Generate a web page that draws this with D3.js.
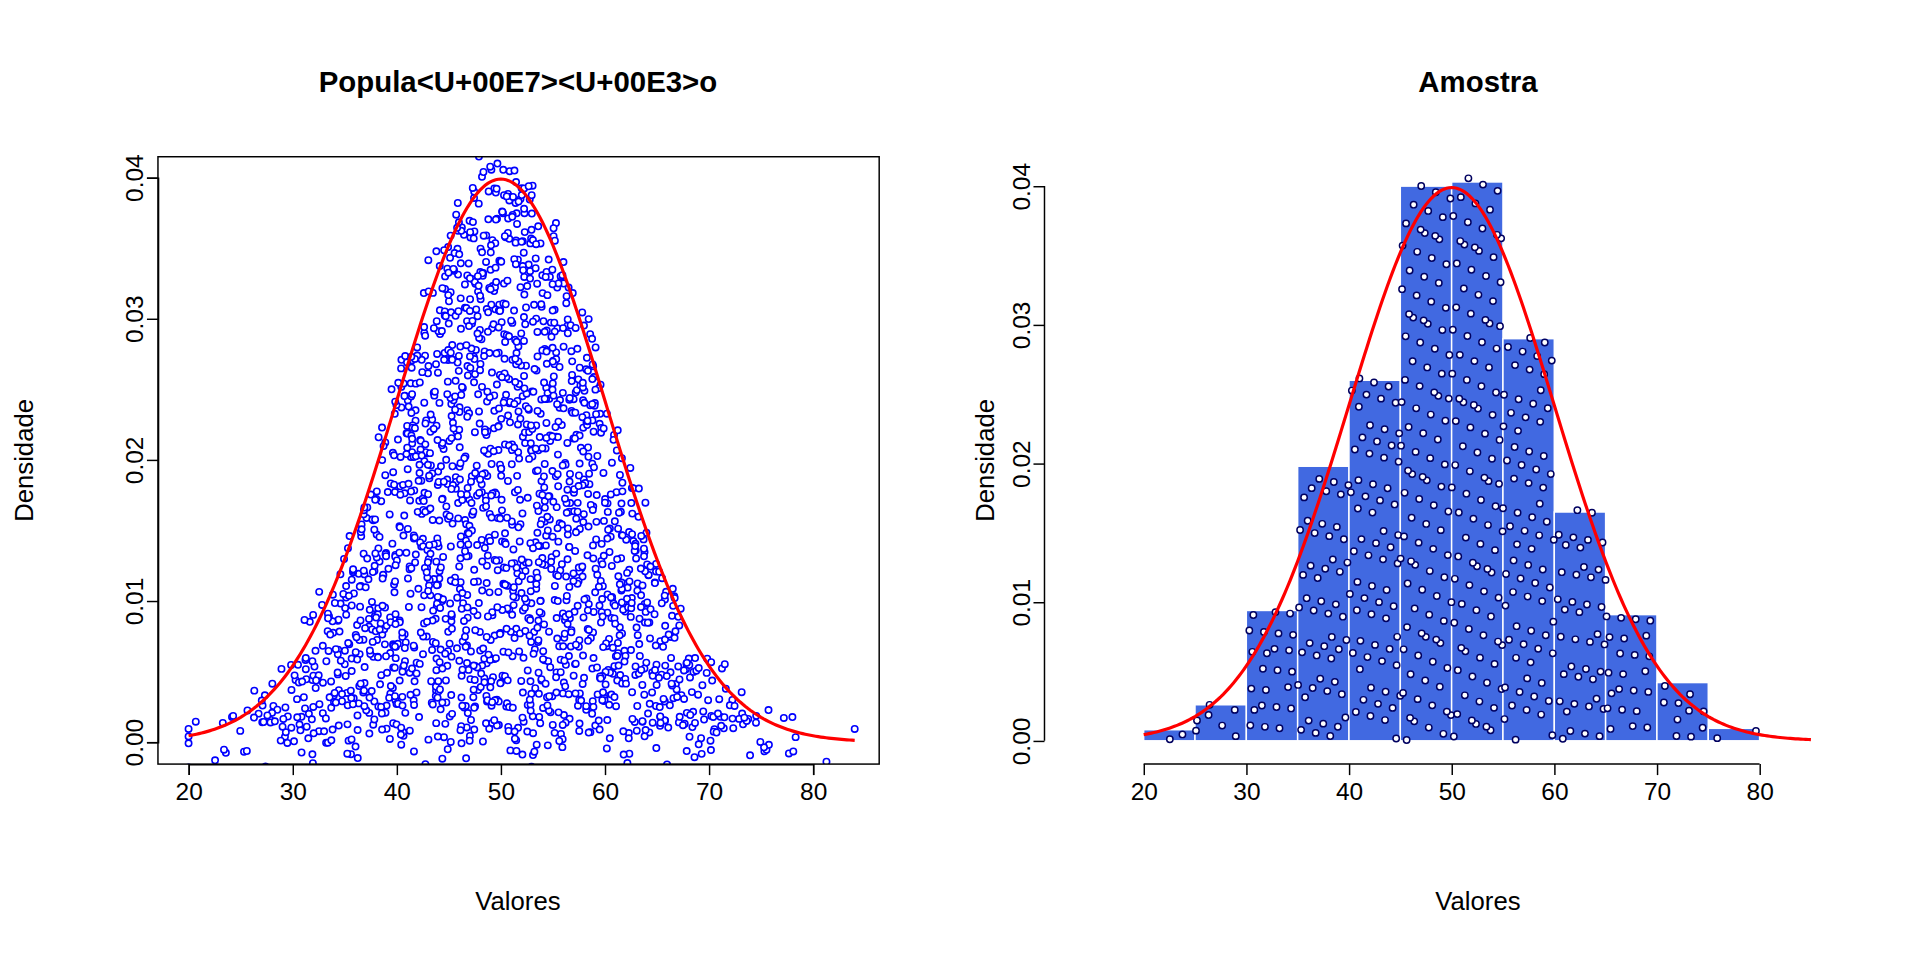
<!DOCTYPE html>
<html><head><meta charset="utf-8">
<script src="https://cdn.jsdelivr.net/npm/d3@7"></script>
<style>body{margin:0;background:#fff}svg{font-family:"Liberation Sans",Arial,sans-serif}</style>
</head><body><svg id="c" width="1920" height="960"></svg>
<script>
// --- data ---
var titles = ['Popula<U+00E7><U+00E3>o', 'Amostra'];
var xTicks = [20, 30, 40, 50, 60, 70, 80];
var yTicks = [0, 0.01, 0.02, 0.03, 0.04];
var binStarts = [20, 25, 30, 35, 40, 45, 50, 55, 60, 65, 70, 75];
var binHeights = [0.0008, 0.0026, 0.0094, 0.0198, 0.026, 0.040, 0.0403, 0.029, 0.0165, 0.0091, 0.0042, 0.0009];
var popMean = 50, popSd = 10, popCount = 2000, sampleCount = 500;

// layout measured on a 1568-wide view; scale up to 1920
var svg = d3.select('#c').append('g').attr('transform', 'scale(' + (1920 / 1568) + ')');
function dnorm(x) { return Math.exp(-0.5 * Math.pow((x - popMean) / popSd, 2)) / (popSd * Math.sqrt(2 * Math.PI)); }
// deterministic low-discrepancy texture for the jittered points
function frac(v) { return v - Math.floor(v); }

function axes(g, x, y, xAxisY, yAxisX) {
  var ax = g.append('g').attr('transform', 'translate(0,' + xAxisY + ')')
    .call(d3.axisBottom(x).tickValues(xTicks).tickSize(9).tickPadding(6));
  var ay = g.append('g').attr('transform', 'translate(' + yAxisX + ',0)')
    .call(d3.axisLeft(y).tickValues(yTicks).tickFormat(d3.format('.2f')).tickSize(9).tickPadding(6));
  [ax, ay].forEach(function (a) {
    a.selectAll('path,line').attr('stroke', '#000').attr('stroke-width', 1.2);
    a.selectAll('text').attr('font-size', 20).attr('fill', '#000');
  });
  ay.selectAll('text').attr('text-anchor', 'middle')
    .attr('transform', 'translate(-12,0) rotate(-90)').attr('x', 0).attr('dy', '0');
}
function labels(cx, ylx, title) {
  svg.append('text').attr('x', cx).attr('y', 75).attr('text-anchor', 'middle')
    .attr('font-size', 24).attr('font-weight', 'bold').text(title);
  svg.append('text').attr('x', cx).attr('y', 743).attr('text-anchor', 'middle').attr('font-size', 21).text('Valores');
  svg.append('text').attr('transform', 'translate(' + ylx + ',376) rotate(-90)')
    .attr('text-anchor', 'middle').attr('font-size', 21).text('Densidade');
}
var curveX = d3.range(20, 85.01, 0.25);

// ---- left panel ----
var x1 = d3.scaleLinear().domain([20, 80]).range([154, 664]);
var y1 = d3.scaleLinear().domain([0, 0.04]).range([606, 145]);
var g1 = svg.append('g');
g1.append('defs').append('clipPath').attr('id', 'cl1').append('rect')
  .attr('x', 129).attr('y', 128).attr('width', 589).attr('height', 496);
var pop = d3.range(1, popCount + 1).map(function (i) {
  var u1 = frac(i * 0.7548776662 + 0.1), u2 = frac(i * 0.5698402910 + 0.3), u3 = frac(i * 0.6180339887);
  var z = Math.sqrt(-2 * Math.log(u1)) * Math.cos(2 * Math.PI * u2);
  var xv = Math.max(20, Math.min(84, popMean + popSd * z));
  return [xv, u3 * dnorm(xv) * 1.03 + (frac(i * 0.41421356) - 0.5) * 0.004];
});
g1.append('g').attr('clip-path', 'url(#cl1)').selectAll('circle').data(pop).join('circle')
  .attr('cx', function (d) { return x1(d[0]); }).attr('cy', function (d) { return y1(d[1]); })
  .attr('r', 2.6).attr('fill', '#fff').attr('stroke', '#0000ff').attr('stroke-width', 1.3);
g1.append('path').datum(curveX.filter(function (v) { return v <= 84; }))
  .attr('d', d3.line().x(function (v) { return x1(v); }).y(function (v) { return y1(dnorm(v)); }))
  .attr('fill', 'none').attr('stroke', '#ff0000').attr('stroke-width', 2.6);
g1.append('rect').attr('x', 129).attr('y', 128).attr('width', 589).attr('height', 496)
  .attr('fill', 'none').attr('stroke', '#000').attr('stroke-width', 1.2);
axes(g1, x1, y1, 624, 129);
labels(423, 27, titles[0]);

// ---- right panel ----
var x2 = d3.scaleLinear().domain([20, 80]).range([934, 1437]);
var y2 = d3.scaleLinear().domain([0, 0.04]).range([605, 152]);
var g2 = svg.append('g');
g2.selectAll('rect.bar').data(binStarts).join('rect').attr('class', 'bar')
  .attr('x', function (d) { return x2(d); }).attr('width', function (d) { return x2(d + 5) - x2(d); })
  .attr('y', function (d, i) { return y2(binHeights[i]); })
  .attr('height', function (d, i) { return y2(0) - y2(binHeights[i]); })
  .attr('fill', '#4169e1').attr('stroke', '#fff').attr('stroke-width', 1.2);
var samp = [];
var k = 1;
binHeights.forEach(function (h, b) {
  var n = Math.round(h * 5 * sampleCount);
  for (var j = 0; j < n; j++, k++) {
    samp.push([binStarts[b] + frac(k * 0.7548776662) * 5, frac(k * 0.5698402910) * h * 1.01]);
  }
});
g2.selectAll('circle').data(samp).join('circle')
  .attr('cx', function (d) { return x2(d[0]); }).attr('cy', function (d) { return y2(d[1]); })
  .attr('r', 2.6).attr('fill', '#fff').attr('stroke', '#000060').attr('stroke-width', 1.2);
g2.append('path').datum(curveX)
  .attr('d', d3.line().x(function (v) { return x2(v); }).y(function (v) { return y2(dnorm(v)); }))
  .attr('fill', 'none').attr('stroke', '#ff0000').attr('stroke-width', 2.6);
axes(g2, x2, y2, 624, 853);
g2.selectAll('.domain').remove();
g2.append('line').attr('x1', x2(20)).attr('x2', x2(80)).attr('y1', 624).attr('y2', 624).attr('stroke', '#000').attr('stroke-width', 1.2);
g2.append('line').attr('x1', 853).attr('x2', 853).attr('y1', y2(0)).attr('y2', y2(0.04)).attr('stroke', '#000').attr('stroke-width', 1.2);
labels(1207, 812, titles[1]);
</script></body></html>
